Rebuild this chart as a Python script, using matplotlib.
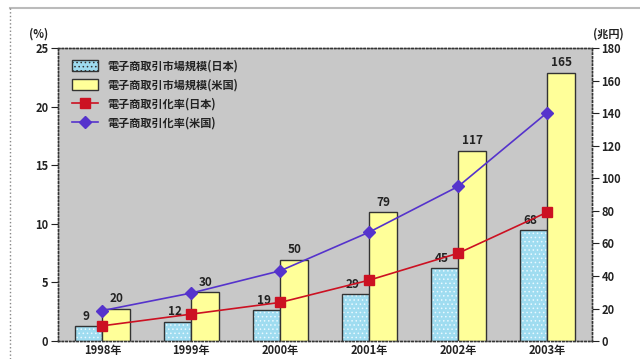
import matplotlib.pyplot as plt
import numpy as np
from matplotlib.lines import Line2D

plt.rcParams['font.family'] = ['Noto Sans CJK JP', 'DejaVu Sans']
plt.rcParams['hatch.linewidth'] = 0.6

# data
years = ['1998年', '1999年', '2000年', '2001年', '2002年', '2003年']
market_jp = [9, 12, 19, 29, 45, 68]        # 兆円
market_us = [20, 30, 50, 79, 117, 165]     # 兆円
rate_jp = [1.3, 2.3, 3.3, 5.2, 7.5, 11.0]  # %
rate_us = [2.6, 4.1, 6.0, 9.3, 13.2, 19.5]  # %

labels = ['電子商取引市場規模(日本)', '電子商取引市場規模(米国)',
          '電子商取引化率(日本)', '電子商取引化率(米国)']

fig = plt.figure(figsize=(6.4, 3.59), dpi=100)
ax = fig.add_axes([0.0906, 0.050, 0.834, 0.816])
ax.set_facecolor('#c8c8c8')
ax2 = ax.twinx()

x = np.arange(len(years))
w = 0.31

# bars on the right axis (兆円)
ax2.bar(x - w / 2, market_jp, w, color='#9fdcf0', hatch='....', edgecolor='#e8f8ff',
        linewidth=0, zorder=1)
b_jp = ax2.bar(x - w / 2, market_jp, w, facecolor='none', edgecolor='#333333',
               linewidth=1.0, zorder=2)
b_us = ax2.bar(x + w / 2, market_us, w, color='#ffff99', edgecolor='#333333',
               linewidth=1.0, zorder=2)

for i in range(len(years)):
    ax2.text(x[i] - w / 2 - 0.03, market_jp[i] + 2, str(market_jp[i]), ha='center',
             va='bottom', fontsize=8.5, color='#222222', fontweight='bold')
    ax2.text(x[i] + w / 2, market_us[i] + 2, str(market_us[i]), ha='center',
             va='bottom', fontsize=8.5, color='#222222', fontweight='bold')

ax2.set_ylim(0, 180)
ax2.set_yticks(range(0, 181, 20))

# rate lines belong to the left axis (%); plotted on ax2 in converted units
scale = 180 / 25
l_jp, = ax2.plot(x, np.array(rate_jp) * scale, color='#cc1122', marker='s',
                 markersize=7, linewidth=1.2, zorder=3)
l_us, = ax2.plot(x, np.array(rate_us) * scale, color='#5533cc', marker='D',
                 markersize=6, linewidth=1.2, zorder=3)

ax.set_ylim(0, 25)
ax.set_yticks(range(0, 26, 5))
ax.set_xlim(-0.5, len(years) - 0.5)
ax.set_xticks(x)
ax.set_xticklabels(years)

for a in (ax, ax2):
    a.tick_params(labelsize=8, length=5, width=0.8, colors='#222222', pad=2)
    for s in a.spines.values():
        s.set_color('#333333')
        s.set_linewidth(1.0)
        s.set_linestyle(':')
    for t in a.get_yticklabels() + a.get_xticklabels():
        t.set_fontweight('bold')
ax.tick_params(axis='x', length=0, pad=2)

# legend proxy for the hatched bar
jp_patch = plt.Rectangle((0, 0), 1, 1, facecolor='#9fdcf0', edgecolor='#333333',
                         hatch='....', linewidth=1.0)
leg = ax2.legend([jp_patch, b_us, l_jp, l_us], labels, loc='upper left', frameon=False,
                 fontsize=8, handlelength=2.4, handleheight=1.1, labelspacing=0.55,
                 borderaxespad=0.6, bbox_to_anchor=(0.005, 1.0))
for t in leg.get_texts():
    t.set_fontweight('bold')
    t.set_color('#222222')

fig.text(0.045, 0.905, '(%)', fontsize=8, ha='left', va='center', color='#222222',
         fontweight='bold')
fig.text(0.975, 0.905, '(兆円)', fontsize=8, ha='right', va='center', color='#222222',
         fontweight='bold')

# outer frame lines
fig.add_artist(Line2D([0.016, 1.0], [0.978, 0.978], color='#bbbbbb', linewidth=1.5))
fig.add_artist(Line2D([0.016, 0.016], [0.0, 0.978], color='#888888', linewidth=1.0,
                      linestyle=':'))

fig.savefig('out.png', dpi=100)
